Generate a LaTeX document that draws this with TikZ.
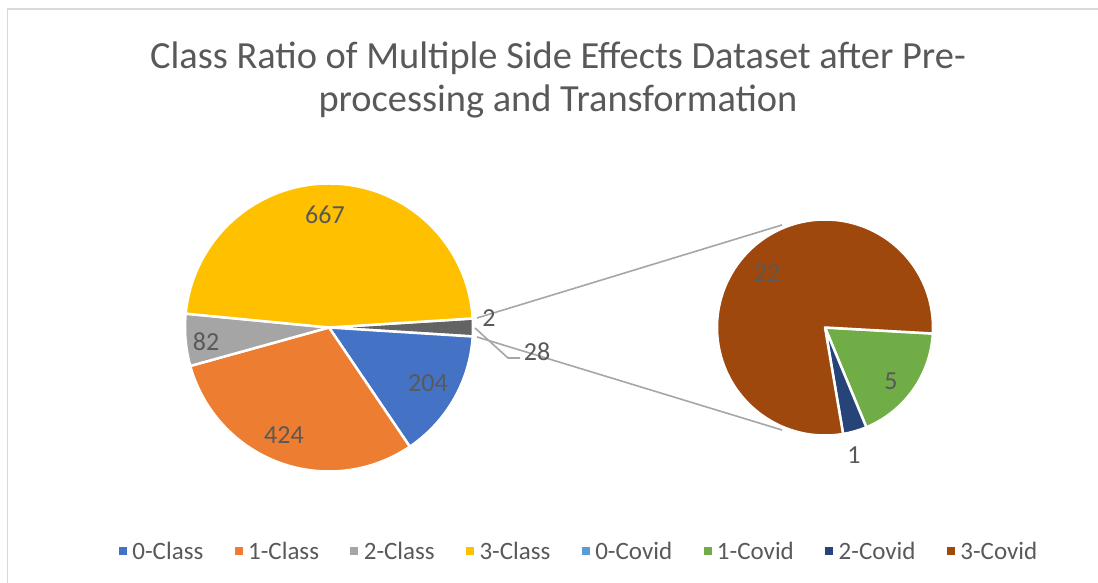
\documentclass[tikz,border=0pt]{standalone}
\usepackage{fontspec}
\setmainfont{Carlito}
\usetikzlibrary{positioning}

\definecolor{classzero}{HTML}{4472C4}
\definecolor{classone}{HTML}{ED7D31}
\definecolor{classtwo}{HTML}{A5A5A5}
\definecolor{classthree}{HTML}{FFC000}
\definecolor{covidzero}{HTML}{5B9BD5}
\definecolor{covidone}{HTML}{70AD47}
\definecolor{covidtwo}{HTML}{264478}
\definecolor{covidthree}{HTML}{9E480E}
\definecolor{otherslice}{HTML}{636363}
\definecolor{labelgray}{HTML}{595959}
\definecolor{linegray}{HTML}{A6A6A6}
\definecolor{framegray}{HTML}{D9D9D9}

\tikzset{
  slice/.style={draw=white, line width=2.5pt, line join=round},
  datalabel/.style={text=labelgray, font=\fontsize{26}{30}\selectfont, inner sep=0pt},
  legendbox/.style={fill=#1, minimum size=8pt, inner sep=0pt},
  legendtext/.style={text=labelgray, font=\fontsize{25}{30}\selectfont, inner sep=0pt, anchor=west},
  zoomline/.style={draw=linegray, line width=1.6pt},
}

\begin{document}
\begin{tikzpicture}[x=1pt, y=1pt]
        \useasboundingbox (0,0) rectangle (1098,583);
        %frame
        \draw[framegray, line width=1.5pt] (7.5,-10) -- (7.5,574) -- (1110,574);

        %title
        \node[text=labelgray, font=\fontsize{38.4}{43}\selectfont, align=center] (title) at (558,503)
            {Class Ratio of Multiple Side Effects Dataset after Pre-\\processing and Transformation};

        %main pie
        \coordinate (lc) at (329,255.5);
        \filldraw[slice, fill=otherslice] (lc) -- ([shift={(3.587:144)}]lc) arc (3.587:-3.587:144) -- cycle;
        \filldraw[slice, fill=classzero] (lc) -- ([shift={(-3.587:144)}]lc) arc (-3.587:-55.86:144) -- cycle;
        \filldraw[slice, fill=classone] (lc) -- ([shift={(-55.86:144)}]lc) arc (-55.86:-164.5:144) -- cycle;
        \filldraw[slice, fill=classtwo] (lc) -- ([shift={(-164.5:144)}]lc) arc (-164.5:-185.51:144) -- cycle;
        \filldraw[slice, fill=classthree] (lc) -- ([shift={(-185.51:144)}]lc) arc (-185.51:-356.41:144) -- cycle;

        %second pie
        \coordinate (rc) at (825,255.5);
        \filldraw[slice, fill=covidone] (rc) -- ([shift={(-3.2:108)}]rc) arc (-3.2:-67.49:108) -- cycle;
        \filldraw[slice, fill=covidtwo] (rc) -- ([shift={(-67.49:108)}]rc) arc (-67.49:-80.35:108) -- cycle;
        \filldraw[slice, fill=covidthree] (rc) -- ([shift={(-80.35:108)}]rc) arc (-80.35:-363.2:108) -- cycle;

        %connectors
        \coordinate (ltop) at (477,265);
        \coordinate (lbot) at (477,246);
        \coordinate (rtop) at (782,358);
        \coordinate (rbot) at (782,153);
        \draw[zoomline] (ltop) -- (rtop);
        \draw[zoomline] (lbot) -- (rbot);

        %leader for other slice
        \coordinate (lead0) at (475,255);
        \coordinate (lead1) at (508,225);
        \coordinate (lead2) at (520,225);
        \draw[zoomline] (lead0) -- (lead1) -- (lead2);

        %labels
        \node[datalabel] (l667) at (325,368) {667};
        \node[datalabel] (l82) at (206,241) {82};
        \node[datalabel] (l204) at (428,200) {204};
        \node[datalabel] (l424) at (284,148) {424};
        \node[datalabel] (l2) at (489,265) {2};
        \node[datalabel] (l28) at (537,231) {28};
        \node[datalabel] (l22) at (767,310) {22};
        \node[datalabel] (l5) at (891,202) {5};
        \node[datalabel] (l1) at (854,128) {1};

        %legend
        \node[legendbox=classzero] (k0) at (123,32) {};
        \node[legendtext, right=5pt of k0] (t0) {0-Class};
        \node[legendbox=classone, right=31pt of t0] (k1) {};
        \node[legendtext, right=5pt of k1] (t1) {1-Class};
        \node[legendbox=classtwo, right=31pt of t1] (k2) {};
        \node[legendtext, right=5pt of k2] (t2) {2-Class};
        \node[legendbox=classthree, right=31pt of t2] (k3) {};
        \node[legendtext, right=5pt of k3] (t3) {3-Class};
        \node[legendbox=covidzero, right=31pt of t3] (k4) {};
        \node[legendtext, right=5pt of k4] (t4) {0-Covid};
        \node[legendbox=covidone, right=31pt of t4] (k5) {};
        \node[legendtext, right=5pt of k5] (t5) {1-Covid};
        \node[legendbox=covidtwo, right=31pt of t5] (k6) {};
        \node[legendtext, right=5pt of k6] (t6) {2-Covid};
        \node[legendbox=covidthree, right=31pt of t6] (k7) {};
        \node[legendtext, right=5pt of k7] (t7) {3-Covid};
    \end{tikzpicture}
\end{document}
